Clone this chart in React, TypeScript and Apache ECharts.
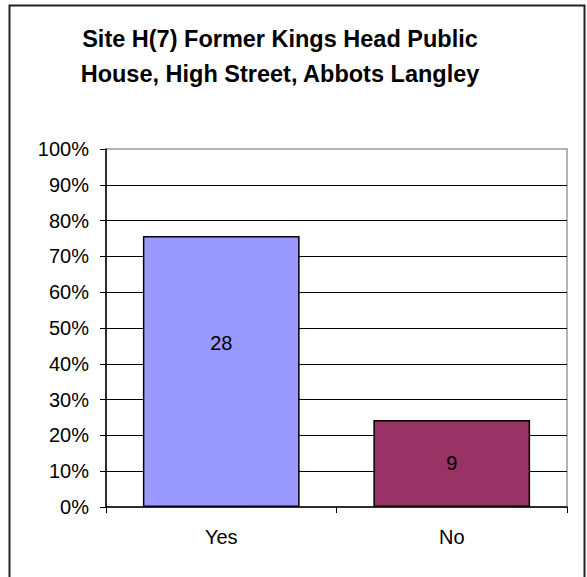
import React, { useEffect, useRef } from "react";
import * as echarts from "echarts";

const TITLE_LINES = ["Site H(7) Former Kings Head Public", "House, High Street, Abbots Langley"];
const categories = ["Yes", "No"];
const counts = [28, 9];
const barColors = ["#9999FF", "#993366"];
const labelOffsets = [[0, -29], [0, 0]];
const yTicks = [0, 10, 20, 30, 40, 50, 60, 70, 80, 90, 100];

const FONT = "'Liberation Sans', Arial, sans-serif";

export default function App() {
  const ref = useRef<HTMLDivElement>(null);
  useEffect(() => {
    document.body.style.margin = "0";
    if (!ref.current) return;
    const chart = echarts.init(ref.current, null, { renderer: "svg" });
    const total = counts.reduce((a, b) => a + b, 0);
    const pct = counts.map((c) => (c / total) * 100);
    chart.setOption({
      animation: false,
      backgroundColor: "#ffffff",
      textStyle: { fontFamily: FONT },
      title: {
        text: TITLE_LINES.join("\n"),
        left: 275,
        top: 16,
        textAlign: "center",
        textStyle: { fontFamily: FONT, fontSize: 23.5, fontWeight: "bold", color: "#000", lineHeight: 35 },
      },
      graphic: [
        {
          type: "rect",
          shape: { x: 9.5, y: 5.5, width: 575, height: 620 },
          style: { fill: "none", stroke: "#222", lineWidth: 2 },
          silent: true,
          z: 100,
        },
      ],
      grid: {
        left: 106,
        right: 20,
        top: 149,
        bottom: 70,
        show: true,
        borderColor: "#999999",
        borderWidth: 1.5,
        backgroundColor: "#ffffff",
      },
      xAxis: {
        type: "category",
        data: categories,
        boundaryGap: true,
        axisLine: { show: true, lineStyle: { color: "#000", width: 1.5 } },
        axisTick: { show: true, alignWithLabel: false, length: 6, lineStyle: { color: "#000" } },
        axisLabel: { color: "#000", fontSize: 20, fontFamily: FONT, margin: 20 },
      },
      yAxis: {
        type: "value",
        min: 0,
        max: 100,
        interval: 10,
        axisLine: { show: true, lineStyle: { color: "#000", width: 1.5 } },
        axisTick: { show: true, length: 6, lineStyle: { color: "#000" } },
        axisLabel: {
          color: "#000",
          fontSize: 20,
          fontFamily: FONT,
          margin: 17,
          formatter: (v: number) => (yTicks.includes(v) ? v + "%" : ""),
        },
        splitLine: { show: true, showMinLine: false, showMaxLine: false, lineStyle: { color: "#000", width: 1 } },
      },
      series: [
        {
          type: "bar",
          barWidth: "68%",
          data: pct.map((v, i) => ({
            value: v,
            itemStyle: { color: barColors[i], borderColor: "#000", borderWidth: 1.5 },
            label: { offset: labelOffsets[i] },
          })),
          label: {
            show: true,
            position: "inside",
            color: "#000",
            fontSize: 20,
            fontFamily: FONT,
            formatter: (p: any) => String(counts[p.dataIndex]),
          },
        },
      ],
    });
    return () => chart.dispose();
  }, []);
  return <div ref={ref} style={{ width: 587, height: 577 }} />;
}
